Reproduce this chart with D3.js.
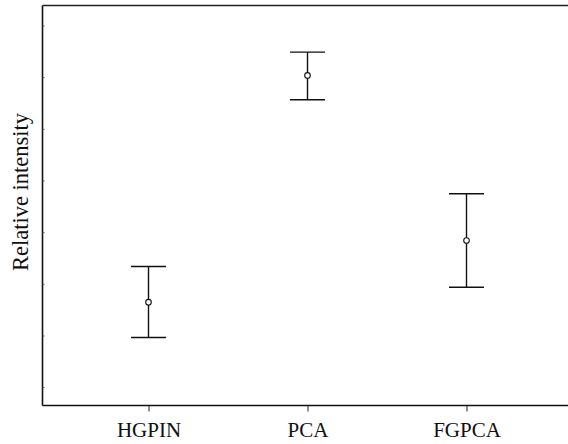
<!DOCTYPE html>
<html>
<head>
<meta charset="utf-8">
<script src="https://cdn.jsdelivr.net/npm/d3@7"></script>
<style>
  body { margin: 0; background: #fff; }
  text { font-family: "Liberation Serif", "DejaVu Serif", serif; fill: #111; }
</style>
</head>
<body>
<div id="chart"></div>
<script>
// groups and their mean / error limits (in tick units)
var groups = ["HGPIN", "PCA", "FGPCA"];
var means = [1.645, 6.033, 2.839];
var upper = [2.336, 6.484, 3.743];
var lower = [0.962, 5.562, 1.935];
var yTicks = [0, 1, 2, 3, 4, 5, 6, 7];

var width = 568,
    height = 444;

var svg = d3.select("#chart")
    .append("svg")
    .attr("width", width)
    .attr("height", height);

var plotLeft = 42.5, plotTop = 5.5, plotBottom = 405.5;

var xScale = d3.scalePoint()
    .domain(groups)
    .range([148.5, 466.5]);

var yScale = d3.scaleLinear()
    .domain([-0.355, 7.387])
    .range([plotBottom, plotTop]);

// frame: top line
svg.append("line")
    .attr("x1", plotLeft).attr("x2", width)
    .attr("y1", plotTop).attr("y2", plotTop)
    .attr("stroke", "#222").attr("stroke-width", 1.3);

// y axis, ticks pointing inward, no labels
var yAxis = svg.append("g")
    .attr("transform", "translate(" + plotLeft + ",0)")
    .call(d3.axisRight(yScale).tickValues(yTicks).tickSize(2).tickFormat(""));
yAxis.select(".domain").attr("d", "M0," + plotTop + "V" + plotBottom)
    .attr("stroke", "#111").attr("stroke-width", 1.6);
yAxis.selectAll(".tick line").attr("stroke", "#555");

// x axis
var xAxis = svg.append("g")
    .attr("transform", "translate(0," + plotBottom + ")")
    .call(d3.axisBottom(xScale).tickSize(6).tickPadding(11).tickSizeOuter(0));
xAxis.select(".domain").attr("d", "M" + plotLeft + ",0H" + width)
    .attr("stroke", "#111").attr("stroke-width", 1.6);
xAxis.selectAll(".tick line").attr("stroke", "#222");
xAxis.selectAll(".tick text")
    .style("font-family", "Liberation Serif, serif")
    .style("font-size", "21px")
    .attr("fill", "#111");

// y axis title
svg.append("text")
    .attr("transform", "translate(28,192) rotate(-90)")
    .attr("text-anchor", "middle")
    .style("font-size", "22.5px")
    .text("Relative intensity");

// error bars
var capHalf = 17.5;
var bars = svg.append("g").selectAll("g")
    .data(groups)
    .enter().append("g");

bars.append("line")
    .attr("x1", function (d) { return xScale(d); })
    .attr("x2", function (d) { return xScale(d); })
    .attr("y1", function (d, i) { return yScale(upper[i]); })
    .attr("y2", function (d, i) { return yScale(lower[i]); })
    .attr("stroke", "#111").attr("stroke-width", 1.4);

bars.append("line")
    .attr("x1", function (d) { return xScale(d) - capHalf; })
    .attr("x2", function (d) { return xScale(d) + capHalf; })
    .attr("y1", function (d, i) { return yScale(upper[i]); })
    .attr("y2", function (d, i) { return yScale(upper[i]); })
    .attr("stroke", "#111").attr("stroke-width", 1.4);

bars.append("line")
    .attr("x1", function (d) { return xScale(d) - capHalf; })
    .attr("x2", function (d) { return xScale(d) + capHalf; })
    .attr("y1", function (d, i) { return yScale(lower[i]); })
    .attr("y2", function (d, i) { return yScale(lower[i]); })
    .attr("stroke", "#111").attr("stroke-width", 1.4);

bars.append("circle")
    .attr("cx", function (d) { return xScale(d); })
    .attr("cy", function (d, i) { return yScale(means[i]); })
    .attr("r", 2.8)
    .attr("fill", "#fff")
    .attr("stroke", "#111")
    .attr("stroke-width", 1.1);
</script>
</body>
</html>
